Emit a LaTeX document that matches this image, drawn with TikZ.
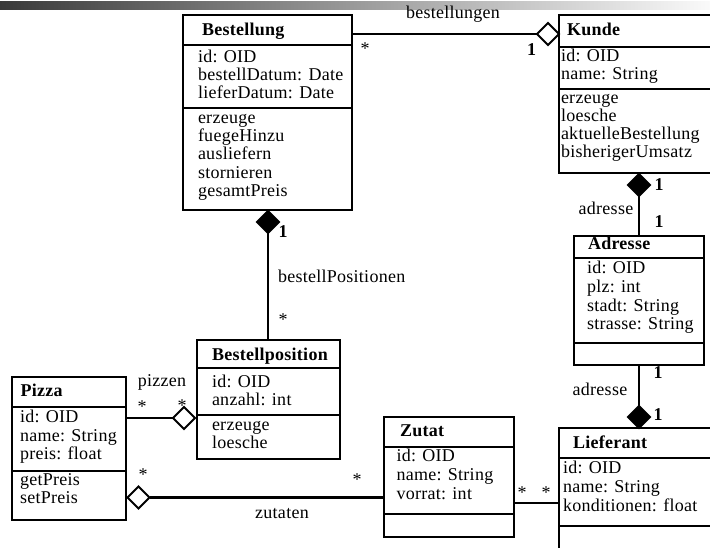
\documentclass[tikz,border=0pt]{standalone}
\usepackage{fontspec}
\setmainfont{Liberation Serif}[LetterSpace=1.5]
\usetikzlibrary{shapes.geometric}
\definecolor{barleft}{RGB}{58,58,58}
\definecolor{barright}{RGB}{250,250,250}

\begin{document}
\begin{tikzpicture}[x=1pt,y=-1pt,
  every node/.style={inner sep=0pt, outer sep=0pt},
  txt/.style={anchor=base west, font=\fontsize{18}{18}\selectfont},
  ttl/.style={anchor=base west, font=\fontsize{18}{18}\selectfont\bfseries},
  lbl/.style={anchor=base, font=\fontsize{18}{18}\selectfont},
  one/.style={anchor=base, font=\fontsize{18}{18}\selectfont\bfseries},
  cls/.style={draw, rectangle, line width=2.8pt},
  sep/.style={line width=2.8pt},
  assoc/.style={line width=2.8pt},
  thinassoc/.style={line width=1.2pt},
  hollow/.style={diamond, aspect=1, draw, fill=white, line width=1.8pt,
                 minimum width=22pt, minimum height=22pt},
  filled/.style={hollow, fill=black},
]
\useasboundingbox (0,0) rectangle (710,548);
\clip (0,0) rectangle (710,548);

% header bar
\fill[left color=barleft, right color=barright] (0,2) rectangle (710,10);

% ---------- class boxes ----------
\node[cls, minimum width=169pt, minimum height=195pt] (bestellung) at (267.5,112.5) {};
\node[cls, minimum width=171pt, minimum height=158pt] (kunde) at (644.5,94) {};
\node[cls, minimum width=130pt, minimum height=129pt] (adresse) at (639,300.5) {};
\node[cls, minimum width=143pt, minimum height=119pt] (bestellposition) at (268.5,399.5) {};
\node[cls, minimum width=114pt, minimum height=143pt] (pizza) at (69,448.5) {};
\node[cls, minimum width=130pt, minimum height=120pt] (zutat) at (449,477) {};
\node[cls, minimum width=171pt, minimum height=152pt] (lieferant) at (644.5,504) {};

% compartment separators
\foreach \b/\ya/\yb in {bestellung/45/108, kunde/47/89, adresse/258/343,
                        bestellposition/368/415, pizza/407/471, zutat/447/514,
                        lieferant/458/526}{
  \draw[sep] (\b.west |- 0,\ya) -- (\b.east |- 0,\ya);
  \draw[sep] (\b.west |- 0,\yb) -- (\b.east |- 0,\yb);
}

% ---------- class texts ----------
\node[ttl] (bestellungT) at (202,36) {Bestellung};
\foreach \y/\t [count=\i] in {62.3/id: OID, 80.7/bestellDatum: Date, 99/lieferDatum: Date,
    123.3/erzeuge, 141.7/fuegeHinzu, 160/ausliefern, 178.3/stornieren, 196.7/gesamtPreis}
  \node[txt] (bestellungL\i) at (198,\y) {\t};

\node[ttl] (kundeT) at (567,36) {Kunde};
\foreach \y/\t [count=\i] in {61.7/id: OID, 80/name: String, 103.5/erzeuge, 121.5/loesche,
    140/aktuelleBestellung, 158/bisherigerUmsatz}
  \node[txt] (kundeL\i) at (561,\y) {\t};

\node[ttl] (adresseT) at (588,250) {Adresse};
\foreach \y/\t [count=\i] in {274/id: OID, 293/plz: int, 311.7/stadt: String, 330/strasse: String}
  \node[txt] (adresseL\i) at (587,\y) {\t};

\node[ttl] (bestellpositionT) at (212,360.7) {Bestellposition};
\foreach \y/\t [count=\i] in {387.3/id: OID, 405/anzahl: int, 430/erzeuge, 448/loesche}
  \node[txt] (bestellpositionL\i) at (212,\y) {\t};

\node[ttl] (pizzaT) at (20.5,396) {Pizza};
\foreach \y/\t [count=\i] in {422.7/id: OID, 441/name: String, 459.3/preis: float,
    485/getPreis, 503.3/setPreis}
  \node[txt] (pizzaL\i) at (20,\y) {\t};

\node[ttl] (zutatT) at (400,436.7) {Zutat};
\foreach \y/\t [count=\i] in {461.7/id: OID, 480.7/name: String, 499.3/vorrat: int}
  \node[txt] (zutatL\i) at (396.5,\y) {\t};

\node[ttl] (lieferantT) at (573,448.3) {Lieferant};
\foreach \y/\t [count=\i] in {473.3/id: OID, 492.7/name: String, 511.7/konditionen: float}
  \node[txt] (lieferantL\i) at (563,\y) {\t};

% ---------- associations ----------
% Bestellung -- Kunde (aggregation)
\node[hollow] (dKunde) at (548,34) {};
\draw[assoc] (bestellung.east |- dKunde.west) -- (dKunde.west);
\node[lbl] (lBestellungen) at (453,18.3) {bestellungen};
\node[lbl] (mBestellungen) at (365,55) {*};
\node[one] (mKunde) at (531.7,56) {1};

% Kunde -- Adresse (composition)
\node[filled] (dKundeAdr) at (639,185) {};
\draw[assoc] (dKundeAdr.south) -- (adresse.north);
\node[lbl] (lAdresseA) at (606,215) {adresse};
\node[one] (mKundeAdrA) at (659,191) {1};
\node[one] (mKundeAdrB) at (659,228) {1};

% Lieferant -- Adresse (composition)
\node[filled] (dLiefAdr) at (639,417) {};
\draw[assoc] (adresse.south) -- (dLiefAdr.north);
\node[lbl] (lAdresseB) at (600,395) {adresse};
\node[one] (mLiefAdrA) at (658,378) {1};
\node[one] (mLiefAdrB) at (658,420) {1};

% Bestellung -- Bestellposition (composition)
\node[filled] (dBestPos) at (268,222) {};
\draw[assoc] (dBestPos.south) -- (bestellposition.north -| dBestPos.south);
\node[txt] (lBestPos) at (278,283) {bestellPositionen};
\node[one] (mBestPosA) at (283,238) {1};
\node[lbl] (mBestPosB) at (283,325) {*};

% Pizza -- Bestellposition (aggregation)
\node[hollow] (dPizzen) at (184,418) {};
\draw[thinassoc] (pizza.east |- dPizzen.west) -- (dPizzen.west);
\node[lbl] (lPizzen) at (162,386.7) {pizzen};
\node[lbl] (mPizzenA) at (142,412) {*};
\node[lbl] (mPizzenB) at (182,411) {*};

% Pizza -- Zutat (aggregation)
\node[hollow] (dZutaten) at (138.5,497.5) {};
\draw[assoc] (dZutaten.east) -- (zutat.west |- dZutaten.east);
\node[lbl] (lZutaten) at (282,518) {zutaten};
\node[lbl] (mZutatenA) at (143,480) {*};
\node[lbl] (mZutatenB) at (357,485) {*};

% Zutat -- Lieferant
\draw[thinassoc] (zutat.east |- 0,503) -- (lieferant.west |- 0,503);
\node[lbl] (mZutLiefA) at (522,498) {*};
\node[lbl] (mZutLiefB) at (546,498) {*};
\end{tikzpicture}
\end{document}
